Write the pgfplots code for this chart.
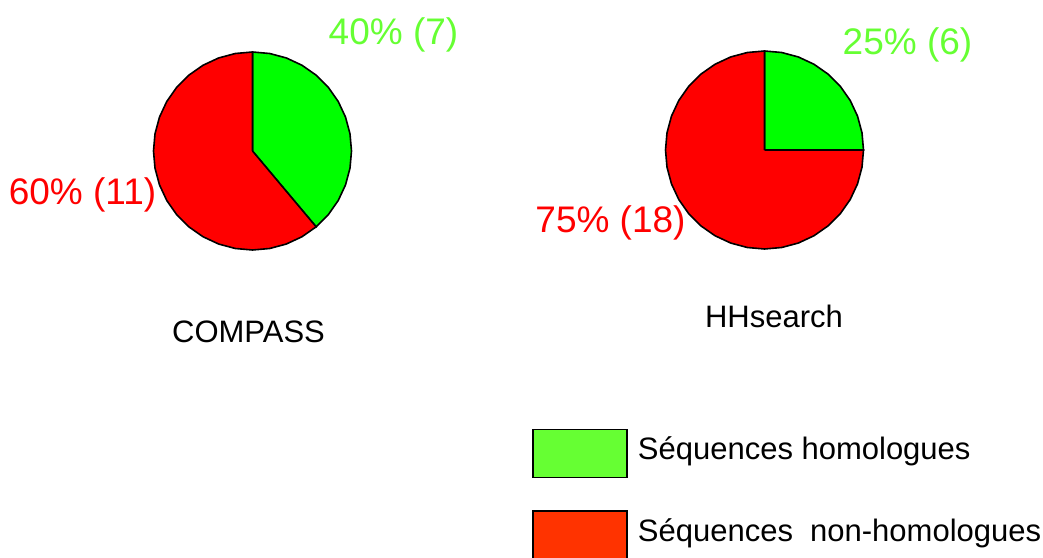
\documentclass[border=0pt]{standalone}
\usepackage{pgfplots}
\pgfplotsset{compat=1.18}
\usepackage{fontspec}
\setmainfont{Liberation Sans}
\definecolor{piegreen}{HTML}{00FF00}
\definecolor{piered}{HTML}{FF0000}
\definecolor{leggreen}{HTML}{66FF33}
\definecolor{legred}{HTML}{FF3300}
\definecolor{labgreen}{HTML}{66FF33}
\definecolor{labred}{HTML}{FF0000}
\begin{document}
\begin{tikzpicture}[x=0.5pt,y=0.5pt]
\path[use as bounding box] (0,0) rectangle (1043,557);
\pgfplotsset{pieaxis/.style={scale only axis, width=99pt, height=99pt,
  xmin=-1, xmax=1, ymin=-1, ymax=1, hide axis, clip=false, anchor=origin}}
% COMPASS: 7 homologous, 11 non-homologous (7/18 = 140 deg)
\begin{axis}[pieaxis, at={(126.25pt,203pt)}]
\addplot[fill=piegreen, draw=black, line width=0.8pt, data cs=polar, forget plot] coordinates {
 (0,0) (90,1) (80,1) (70,1) (60,1) (50,1) (40,1) (30,1) (20,1) (10,1) (0,1)
 (-10,1) (-20,1) (-30,1) (-40,1) (-50,1) (0,0)};
\addplot[fill=piered, draw=black, line width=0.8pt, data cs=polar, forget plot] coordinates {
 (0,0) (-50,1) (-60,1) (-70,1) (-80,1) (-90,1) (-100,1) (-110,1) (-120,1) (-130,1)
 (-140,1) (-150,1) (-160,1) (-170,1) (-180,1) (-190,1) (-200,1) (-210,1) (-220,1)
 (-230,1) (-240,1) (-250,1) (-260,1) (-270,1) (0,0)};
\end{axis}
% HHsearch: 6 homologous, 18 non-homologous (6/24 = 90 deg)
\begin{axis}[pieaxis, at={(382.25pt,203.5pt)},
  legend style={draw=none, fill=none, inner sep=0pt, outer sep=0pt,
    at={(-0.6727,-0.9072)}, anchor=north west,
    cells={anchor=base west}, nodes={inner sep=0pt, text depth=0pt},
    row sep=16pt,
    /tikz/every odd column/.append style={column sep=5pt},
    font=\fontsize{15.5}{18}\selectfont},
  legend image code/.code={\draw[#1] (0pt,-9pt) rectangle (47pt,15pt);}]
\addplot[fill=piegreen, draw=black, line width=0.8pt, data cs=polar, forget plot] coordinates {
 (0,0) (90,1) (80,1) (70,1) (60,1) (50,1) (40,1) (30,1) (20,1) (10,1) (0,1) (0,0)};
\addplot[fill=piered, draw=black, line width=0.8pt, data cs=polar, forget plot] coordinates {
 (0,0) (0,1) (-10,1) (-20,1) (-30,1) (-40,1) (-50,1) (-60,1) (-70,1) (-80,1) (-90,1)
 (-100,1) (-110,1) (-120,1) (-130,1) (-140,1) (-150,1) (-160,1) (-170,1) (-180,1)
 (-190,1) (-200,1) (-210,1) (-220,1) (-230,1) (-240,1) (-250,1) (-260,1) (-270,1) (0,0)};
\addlegendimage{fill=leggreen, draw=black, line width=0.8pt}
\addlegendentry{Séquences homologues}
\addlegendimage{fill=legred, draw=black, line width=0.8pt}
\addlegendentry{Séquences\ \ non-homologues}
\end{axis}
\begin{scope}[every node/.style={inner sep=0pt, anchor=base}]
\node[text=labgreen, font=\fontsize{18.5}{22}\selectfont] at (393.5,512) {40\% (7)};
\node[text=labred, font=\fontsize{18.5}{22}\selectfont] at (82.5,352) {60\% (11)};
\node[text=labgreen, font=\fontsize{18.5}{22}\selectfont] at (907.5,502) {25\% (6)};
\node[text=labred, font=\fontsize{18.5}{22}\selectfont] at (610.5,324) {75\% (18)};
\node[font=\fontsize{15.5}{18}\selectfont] at (248.5,214) {COMPASS};
\node[font=\fontsize{15.5}{18}\selectfont] at (774,229) {HHsearch};
\end{scope}
\end{tikzpicture}
\end{document}
